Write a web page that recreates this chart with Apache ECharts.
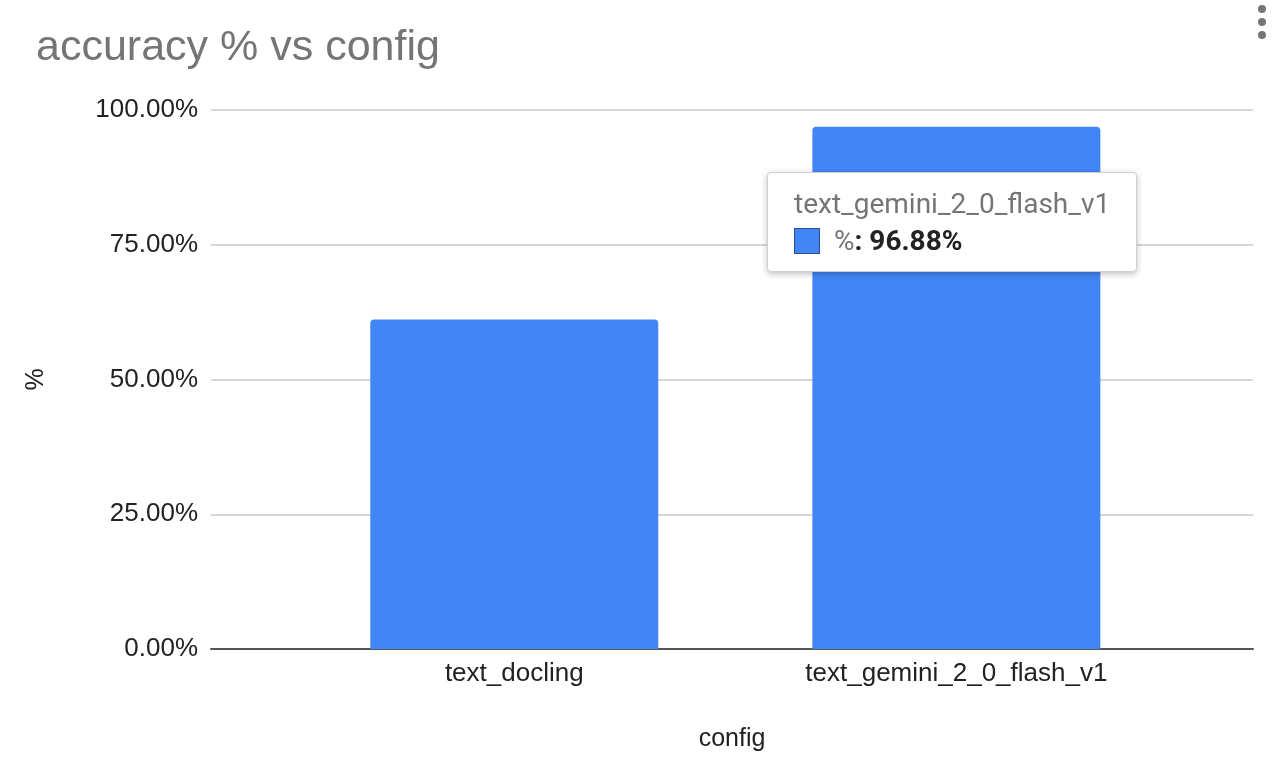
<!DOCTYPE html>
<html>
<head>
<meta charset="utf-8">
<script src="https://cdn.jsdelivr.net/npm/echarts@6/dist/echarts.min.js"></script>
<style>
  html, body { margin: 0; padding: 0; background: #fff; }
  #chart { width: 1274px; height: 784px; }
</style>
</head>
<body>
<div id="chart"></div>
<script>
// data
var configs = ['text_docling', 'text_gemini_2_0_flash_v1'];
var accuracy = [61.11, 96.88];
var yTicks = [0, 25, 50, 75, 100];

var chart = echarts.init(document.getElementById('chart'));

var barData = accuracy.map(function (v, i) { return [i, v]; });

option = {
    animation: false,
    title: {
        text: 'accuracy % vs config',
        left: 31,
        top: 22,
        textStyle: {
            fontFamily: 'Liberation Sans, Arial',
            fontSize: 43,
            fontWeight: 'normal',
            color: '#757575'
        }
    },
    tooltip: {
        trigger: 'item',
        alwaysShowContent: true,
        backgroundColor: '#fff',
        borderColor: '#cfcfcf',
        borderWidth: 1,
        padding: [12, 26, 12, 26],
        extraCssText: 'border-radius:4px;box-shadow:0 2px 6px rgba(0,0,0,0.25);',
        position: function () { return [767, 172]; },
        formatter: function (p) {
            return '<div style="font-family:Roboto;font-size:28px;color:#757575;line-height:38px;">' + configs[p.dataIndex] + '</div>' +
                '<div style="font-family:Roboto;font-size:28px;line-height:36px;">' +
                '<span style="display:inline-block;width:26px;height:26px;background:#4285F4;border:1px solid #2a4f9a;vertical-align:-4px;margin-right:14px;box-sizing:border-box;"></span>' +
                '<span style="color:#757575">%</span><b style="color:#222">: ' + p.value[1].toFixed(2) + '%</b></div>';
        }
    },
    grid: {
        left: 211,
        right: 21,
        top: 110,
        bottom: 135
    },
    xAxis: {
        type: 'value',
        min: -0.686,
        max: 1.671,
        name: 'config',
        nameLocation: 'middle',
        nameGap: 78,
        nameTextStyle: {
            fontFamily: 'Liberation Sans, Arial',
            fontSize: 25,
            color: '#222'
        },
        axisLine: { show: true, lineStyle: { color: '#555', width: 2 } },
        axisTick: { show: false },
        splitLine: { show: false },
        axisLabel: {
            customValues: [0, 1],
            margin: 12,
            fontFamily: 'Liberation Sans, Arial',
            fontSize: 26,
            color: '#222',
            formatter: function (v) { return configs[Math.round(v)] || ''; }
        }
    },
    yAxis: {
        type: 'value',
        min: yTicks[0],
        max: yTicks[yTicks.length - 1],
        interval: 25,
        name: '%',
        nameLocation: 'middle',
        nameGap: 162,
        nameRotate: 90,
        nameTextStyle: {
            fontFamily: 'Liberation Sans, Arial',
            fontSize: 25,
            color: '#222'
        },
        axisLine: { show: false },
        axisTick: { show: false },
        axisLabel: {
            margin: 13,
            fontFamily: 'Liberation Sans, Arial',
            fontSize: 26,
            color: '#222',
            formatter: function (v) { return v.toFixed(2) + '%'; }
        },
        splitLine: { lineStyle: { color: '#d6d6d6', width: 2 } }
    },
    series: [
        {
            name: '%',
            type: 'bar',
            barWidth: 288,
            itemStyle: { color: '#4285F4', borderRadius: [4, 4, 0, 0] },
            data: barData
        }
    ],
    graphic: [
        { type: 'circle', shape: { cx: 1262, cy: 9, r: 4 }, style: { fill: '#757575' } },
        { type: 'circle', shape: { cx: 1262, cy: 22, r: 4 }, style: { fill: '#757575' } },
        { type: 'circle', shape: { cx: 1262, cy: 35, r: 4 }, style: { fill: '#757575' } }
    ]
};

chart.setOption(option);
chart.dispatchAction({ type: 'showTip', seriesIndex: 0, dataIndex: 1 });
</script>
</body>
</html>
